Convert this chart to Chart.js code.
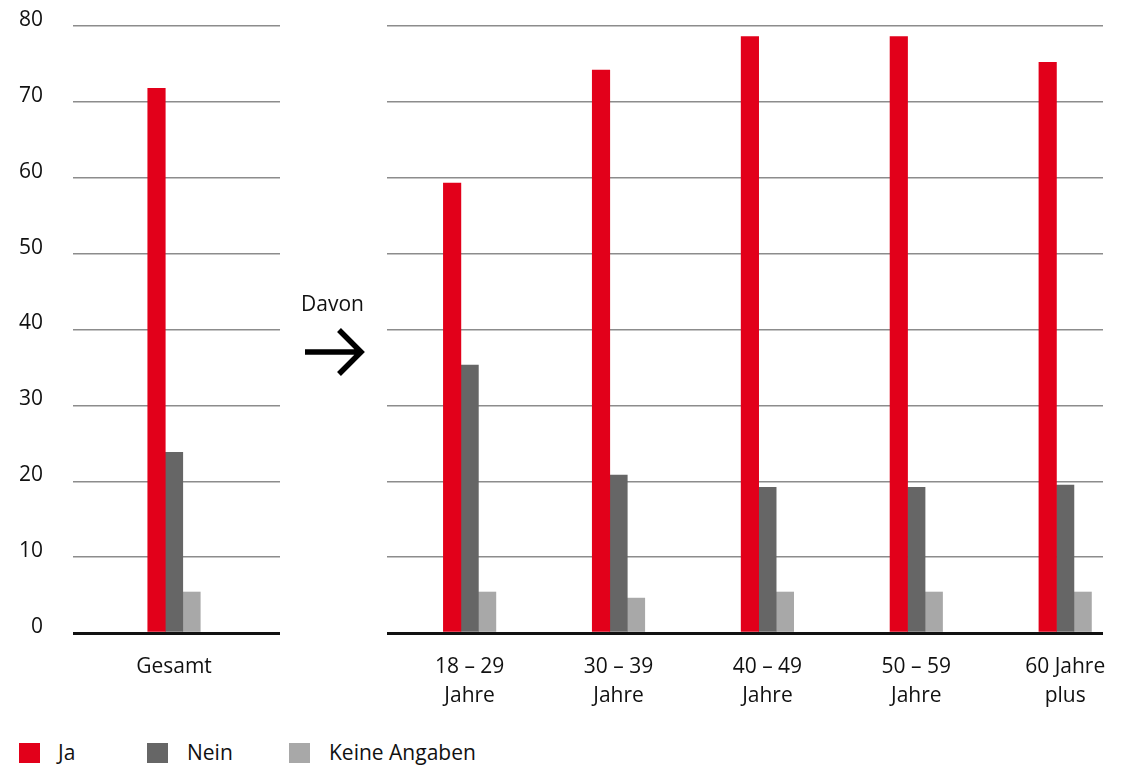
<!DOCTYPE html>
<html lang="de">
<head>
<meta charset="utf-8">
<title>Ja / Nein / Keine Angaben nach Altersgruppen</title>
<script src="https://cdn.jsdelivr.net/npm/chart.js@4.4.1/dist/chart.umd.min.js"></script>
<style>
  html, body { margin: 0; padding: 0; background: #fff; }
  body { width: 1122px; height: 769px; position: relative; overflow: hidden;
         font-family: "Open Sans", sans-serif; color: #111; }
  #left  { position: absolute; left: 0;   top: 0; }
  #right { position: absolute; left: 290px; top: 0; }
  .davon { position: absolute; left: 301px; top: 289px; font-size: 21px; line-height: 28px; }
  .arrow { position: absolute; left: 300px; top: 326px; }
  .legend { position: absolute; left: 0; top: 740px; width: 1122px; height: 28px; }
  .legend .sw { position: absolute; top: 3px; width: 21px; height: 20px; }
  .legend .tx { position: absolute; top: -2px; font-size: 21px; line-height: 28px; }
</style>
</head>
<body>
<canvas id="left" width="290" height="720"></canvas>
<canvas id="right" width="832" height="720"></canvas>

<div class="davon">Davon</div>
<svg class="arrow" width="70" height="54" viewBox="0 0 70 54">
  <path d="M5 26 H59 M39 4 L61 26 L39 48" fill="none" stroke="#000" stroke-width="5.5" stroke-linejoin="miter"/>
</svg>

<div class="legend" id="legend"></div>

<script>
// Antwortkategorien
const seriesNames = ['Ja', 'Nein', 'Keine Angaben'];
const seriesColors = ['#e2001a', '#666666', '#a8a8a8'];

// Gesamt
const totalLabel = ['Gesamt'];
const totalJa = [71.8];
const totalNein = [23.8];
const totalKeine = [5.4];

// Davon: nach Altersgruppen
const ageLabels = [['18 – 29', 'Jahre'], ['30 – 39', 'Jahre'], ['40 – 49', 'Jahre'], ['50 – 59', 'Jahre'], ['60 Jahre', 'plus']];
const ageJa = [59.3, 74.2, 78.6, 78.6, 75.2];
const ageNein = [35.3, 20.8, 19.2, 19.2, 19.5];
const ageKeine = [5.4, 4.6, 5.4, 5.4, 5.4];

// y-Achse
const yTicks = [0, 10, 20, 30, 40, 50, 60, 70, 80];

const FONT = '"Open Sans", sans-serif';

function points(values) {
  return values.map((v, i) => ({ x: i, y: v }));
}

function datasets(ja, nein, keine) {
  return [ja, nein, keine].map((vals, k) => ({
    label: seriesNames[k],
    data: points(vals),
    backgroundColor: seriesColors[k],
    borderWidth: 0,
    barThickness: 17.5,
    grouped: true
  }));
}

function buildChart(canvasId, labels, ja, nein, keine, opts) {
  return new Chart(document.getElementById(canvasId), {
    type: 'bar',
    data: { datasets: datasets(ja, nein, keine) },
    options: {
      responsive: false,
      maintainAspectRatio: false,
      devicePixelRatio: 1,
      animation: false,
      events: [],
      layout: { padding: { top: 26, right: opts.padRight, bottom: 0, left: 0 } },
      plugins: { legend: { display: false }, tooltip: { enabled: false } },
      scales: {
        x: {
          type: 'linear',
          offset: false,
          min: opts.xMin,
          max: opts.xMax,
          afterBuildTicks: s => { s.ticks = labels.map((_, i) => ({ value: i })); },
          afterFit: s => { s.height = 87; s.paddingLeft = 0; s.paddingRight = 0; },
          grid: { display: false },
          border: { display: false },
          ticks: {
            autoSkip: false,
            maxRotation: 0,
            padding: 11,
            color: '#111',
            font: { family: FONT, size: 21, lineHeight: 1.4 },
            callback: v => labels[v]
          }
        },
        y: {
          min: 0,
          max: 80,
          afterBuildTicks: s => { s.ticks = yTicks.map(v => ({ value: v })); },
          afterFit: s => { s.width = opts.yWidth; s.paddingTop = 0; s.paddingBottom = 0; },
          border: { display: false },
          grid: {
            drawTicks: false,
            color: c => c.tick.value === 0 ? '#111' : '#8c8c8c',
            lineWidth: c => c.tick.value === 0 ? 3 : 1.5
          },
          ticks: {
            display: opts.showY,
            padding: 30,
            labelOffset: -6,
            color: '#111',
            font: { family: FONT, size: 21 }
          }
        }
      }
    }
  });
}

buildChart('left', totalLabel, totalJa, totalNein, totalKeine,
  { xMin: -0.488, xMax: 0.512, yWidth: 73, padRight: 10, showY: true });

buildChart('right', ageLabels, ageJa, ageNein, ageKeine,
  { xMin: -0.555, xMax: 4.254, yWidth: 97, padRight: 19, showY: false });

// Legende
const legendPos = [[19, 58], [147, 187], [289, 329]];
const legend = document.getElementById('legend');
seriesNames.forEach((name, k) => {
  const sw = document.createElement('div');
  sw.className = 'sw';
  sw.style.left = legendPos[k][0] + 'px';
  sw.style.background = seriesColors[k];
  const tx = document.createElement('div');
  tx.className = 'tx';
  tx.style.left = legendPos[k][1] + 'px';
  tx.textContent = name;
  legend.appendChild(sw);
  legend.appendChild(tx);
});
</script>
</body>
</html>
